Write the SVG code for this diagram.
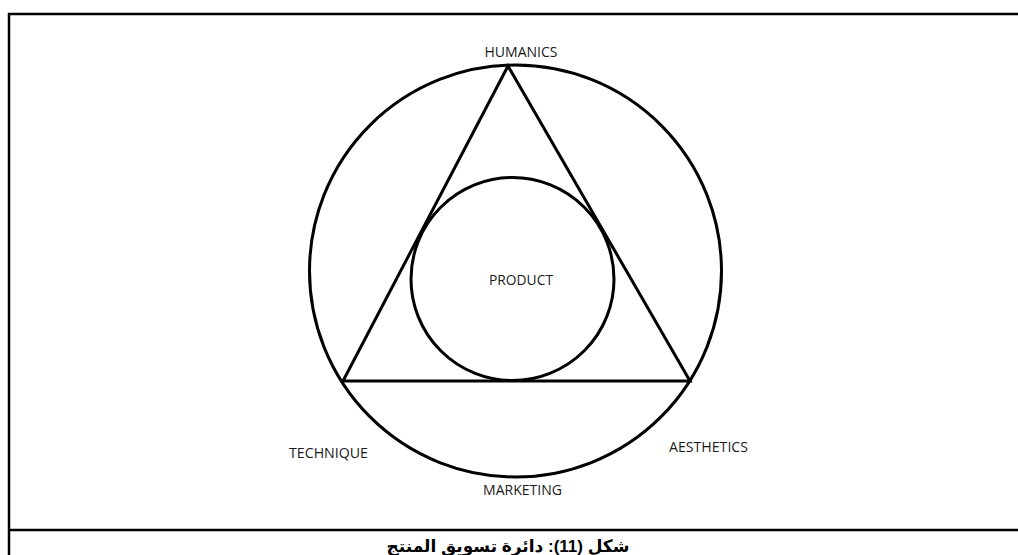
<svg xmlns="http://www.w3.org/2000/svg" width="1018" height="555" viewBox="0 0 1018 555">
<style>
.frame{fill:none;stroke:#000;stroke-width:2.5}
.shape{fill:none;stroke:#000;stroke-width:3}
.lbl{font-family:"Open Sans","Liberation Sans",sans-serif;font-size:14px;fill:#1a1a1a;text-anchor:middle}
.cap{font-family:"Liberation Sans","DejaVu Sans",sans-serif;font-size:17px;font-weight:bold;fill:#000;text-anchor:middle}
</style>
<rect width="1018" height="555" fill="#fff"/>
<g id="frame">
<path class="frame" d="M1020,14 H9 V560 M9,530 H1020"/>
</g>
<g id="outer-circle"><circle class="shape" cx="515.5" cy="271" r="206"/></g>
<g id="triangle"><polygon class="shape" points="508,66 343,381 690,381" stroke-linejoin="miter"/></g>
<g id="inner-circle"><circle class="shape" cx="512.5" cy="279" r="101.5"/></g>
<g id="labels">
<text class="lbl" x="521" y="57" textLength="73" lengthAdjust="spacingAndGlyphs">HUMANICS</text>
<text class="lbl" x="521" y="285" textLength="64" lengthAdjust="spacingAndGlyphs">PRODUCT</text>
<text class="lbl" x="328.5" y="458" textLength="79" lengthAdjust="spacingAndGlyphs">TECHNIQUE</text>
<text class="lbl" x="708.5" y="452" textLength="79" lengthAdjust="spacingAndGlyphs">AESTHETICS</text>
<text class="lbl" x="522.5" y="495" textLength="79" lengthAdjust="spacingAndGlyphs">MARKETING</text>
</g>
<g id="caption">
<text class="cap" x="508" y="552" direction="rtl">شكل (11): دائرة تسويق المنتج</text>
</g>
</svg>
